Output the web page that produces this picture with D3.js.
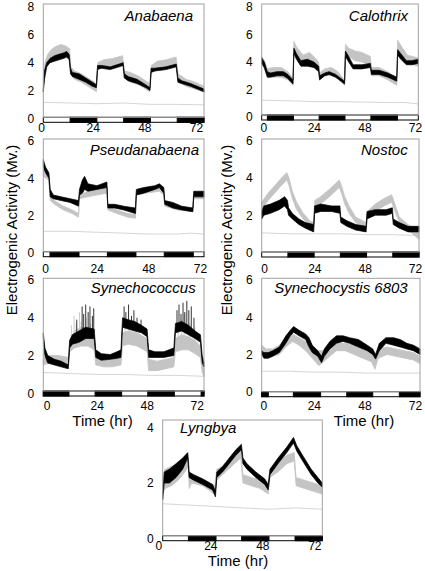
<!DOCTYPE html>
<html><head><meta charset="utf-8">
<script src="https://cdn.jsdelivr.net/npm/d3@7"></script>
<style>
body{margin:0;background:#fff}
svg{display:block}
text{font-family:Arial,"Liberation Sans",sans-serif;fill:#000}
</style>
</head><body>
<svg id="chart" width="425" height="571"></svg>
<script>
// ---------------- DATA (hours, low, high) ----------------
const strainNames = ["Anabaena","Calothrix","Pseudanabaena","Nostoc","Synechococcus","Synechocystis 6803","Lyngbya"];
const xTicks = [0,24,48,72];
const yTicks8 = [0,2,4,6,8];
const yTicks6 = [0,2,4,6];
const yTicks4 = [0,2,4];
const yAxisTitle = "Electrogenic Activity (Mv.)";
const xAxisTitle = "Time (hr)";

const anabaenaBlack = [[0,1.9,2.1],[0.5,2.8,3.4],[1.5,3.7,4.0],[3,4.0,4.3],[5,4.1,4.5],[7,4.2,4.6],[9,4.3,4.7],[10.5,4.4,4.8],[11.6,4.2,4.6],[12.2,3.2,3.6],[13,3.0,3.3],[16,2.8,3.2],[19,2.6,2.9],[22,2.3,2.6],[23.8,2.2,2.4],[24.3,3.5,3.8],[26,3.6,3.8],[30,3.5,3.7],[34,3.7,3.9],[35.8,3.8,4.0],[36.3,2.9,3.2],[38,2.7,3.0],[42,2.5,2.8],[46,2.2,2.4],[47.8,2.0,2.2],[48.3,3.3,3.6],[50,3.4,3.6],[55,3.5,3.7],[59.6,3.7,3.9],[60.3,2.6,2.9],[62,2.5,2.7],[66,2.3,2.5],[72,1.9,2.1]];
const anabaenaGray = [[0,1.9,2.3],[0.7,3.0,4.0],[2,3.9,4.6],[4,4.1,5.0],[6,4.3,5.2],[8,4.4,5.3],[10,4.5,5.2],[11.8,4.3,5.0],[12.3,3.2,3.7],[14,2.8,3.4],[17,2.6,3.2],[20,2.3,2.9],[23.8,1.9,2.5],[24.4,3.6,4.0],[27,3.7,4.2],[31,3.8,4.3],[35.5,3.9,4.5],[36.3,2.9,3.4],[39,2.6,3.3],[43,2.4,3.0],[47.6,1.9,2.5],[48.4,3.3,3.8],[51,3.5,4.1],[55,3.6,4.2],[59.5,3.7,4.4],[60.4,2.6,3.2],[64,2.3,2.8],[68,2.1,2.6],[72,1.9,2.3]];
const anabaenaControl = [[0,1.15],[12,1.1],[24,1.05],[36,1.1],[48,1.0],[60,1.0],[72,0.97]];
const anabaenaDark = [[12,24],[36,48],[60,72]];

const calothrixBlack = [[0,3.9,4.3],[1.2,3.6,4.0],[2.6,2.9,3.3],[4,2.9,3.2],[7,3.0,3.3],[10,3.0,3.3],[12,2.8,3.1],[14.4,2.4,2.7],[14.8,4.6,5.0],[16,4.2,4.6],[18,3.7,4.1],[21,3.7,4.2],[24,3.6,4.0],[26.2,3.3,3.7],[26.6,2.7,3.0],[29,3.0,3.2],[31,3.1,3.3],[34,2.9,3.1],[38.1,2.4,2.6],[38.5,4.4,4.8],[40,4.0,4.4],[42,3.5,3.8],[46,3.5,3.8],[50.0,3.6,3.9],[50.4,3.1,3.4],[54,3.1,3.4],[58,2.9,3.2],[62.1,2.6,2.9],[62.5,4.5,4.9],[64,4.2,4.6],[66.5,3.8,4.1],[69,3.8,4.1],[72,3.9,4.2]];
const calothrixGray = [[0,3.9,4.4],[1.2,3.5,4.1],[2.6,2.9,3.5],[5,2.9,3.6],[9,2.9,3.6],[12,2.7,3.3],[14.4,2.3,2.8],[14.8,4.9,5.5],[16,4.5,5.1],[19,4.0,4.5],[22,4.0,4.7],[24,3.8,4.4],[26.2,3.4,4.0],[26.6,2.7,3.2],[29,3.0,3.5],[32,3.0,3.6],[35,2.8,3.3],[38.1,2.3,2.7],[38.5,4.7,5.3],[40,4.4,5.0],[43,4.1,4.8],[46,4.0,4.7],[50.0,3.8,4.4],[50.4,3.0,3.6],[54,3.0,3.6],[58,2.7,3.3],[62.1,2.3,2.8],[62.5,4.9,5.6],[64,4.5,5.2],[67,3.9,4.5],[72,3.7,4.3]];
const calothrixControl = [[0,1.22],[12,1.18],[24,1.12],[36,1.12],[48,1.08],[60,1.05],[66,1.05],[72,0.95]];
const calothrixDark = [[2.6,14.6],[26.4,38.3],[50.2,62.4]];

const pseudanabaenaBlack = [[0,4.6,5.0],[1,4.3,4.6],[2.5,4.0,4.3],[3.1,3.0,3.4],[4.5,2.9,3.1],[8,2.8,3.0],[12,2.7,2.9],[15.8,2.5,2.8],[16.2,3.1,3.4],[17.5,3.2,3.9],[18.5,3.4,4.1],[20,3.3,3.7],[24,3.4,3.6],[28.5,3.5,3.8],[28.9,2.4,2.6],[32,2.4,2.6],[36,2.3,2.5],[41.3,2.1,2.4],[41.7,3.1,3.4],[45,3.2,3.5],[50,3.4,3.6],[52,3.5,3.7],[54,3.2,3.5],[54.4,2.6,2.8],[58,2.4,2.7],[62,2.3,2.5],[67,2.2,2.4],[67.4,3.0,3.3],[72,3.0,3.3]];
const pseudanabaenaGray = [[0,4.1,4.5],[2.5,3.9,4.2],[3.1,2.8,3.1],[5,2.6,2.8],[9,2.3,2.5],[13,2.1,2.3],[15.8,1.9,2.1],[16.2,2.9,3.1],[20,3.0,3.3],[24,3.1,3.4],[28.5,3.2,3.5],[28.9,2.3,2.5],[33,2.1,2.3],[38,1.9,2.1],[41.3,1.85,2.05],[41.7,3.1,3.3],[46,3.2,3.4],[52,3.3,3.5],[54,3.1,3.3],[54.4,2.5,2.7],[60,2.3,2.5],[67,2.2,2.4],[67.4,2.9,3.1],[72,2.9,3.1]];
const pseudanabaenaControl = [[0,1.15],[12,1.15],[24,1.1],[36,1.05],[48,1.0],[60,1.0],[66,1.05],[72,1.0]];
const pseudanabaenaDark = [[3.0,16.0],[28.7,41.5],[54.2,67.2]];

const nostocBlack = [[0,1.8,2.2],[1,2.0,2.5],[4,2.1,2.6],[8,2.3,2.8],[10.5,2.5,3.0],[11.8,2.3,2.8],[12.3,2.0,2.4],[14,1.8,2.1],[17,1.5,1.8],[20,1.3,1.6],[23.8,1.1,1.5],[24.2,2.1,2.5],[27,2.2,2.6],[32,2.2,2.5],[35.8,2.1,2.5],[36.2,1.6,1.9],[39,1.4,1.7],[43,1.2,1.5],[47.8,1.1,1.4],[48.2,1.8,2.2],[52,2.0,2.3],[57,2.0,2.3],[59.8,2.1,2.4],[60.2,1.5,1.8],[63,1.3,1.6],[67,1.1,1.4],[72,1.1,1.4]];
const nostocGray = [[0,2.3,2.7],[3,2.8,3.2],[6,3.2,3.6],[9,3.6,4.0],[11.5,3.9,4.3],[12.5,3.6,4.0],[14,2.9,3.3],[16,2.3,2.7],[19,1.8,2.1],[22,1.4,1.7],[23.8,1.3,1.6],[24.3,2.4,2.8],[27,2.6,3.0],[31,3.0,3.4],[35.5,3.5,3.9],[36.5,3.2,3.6],[38,2.6,3.0],[40,2.1,2.5],[43,1.6,1.9],[47.8,1.3,1.6],[48.3,1.9,2.2],[52,2.2,2.6],[56,2.5,2.9],[59.5,2.7,3.1],[61,2.2,2.6],[63,1.6,1.9],[67,1.2,1.5],[72,0.7,1.1]];
const nostocControl = [[0,1.05],[12,1.0],[24,1.0],[36,1.0],[48,0.95],[60,0.95],[72,0.9]];
const nostocDark = [[12,24],[36,48],[60,72]];

const synechococcusBlack = [[0,2.9,3.2],[0.7,2.0,2.4],[2,1.6,2.0],[5,1.5,1.8],[8,1.4,1.7],[11.2,1.3,1.5],[11.8,2.4,2.8],[13,2.6,3.1],[16,2.7,3.3],[19,2.9,3.5],[22.8,2.9,3.4],[23.5,1.9,2.3],[26,1.75,2.1],[30,1.8,2.05],[33,1.85,2.2],[34.8,1.9,2.3],[35.5,3.5,4.0],[38,3.4,3.9],[41,3.3,3.8],[44,3.2,3.6],[46.5,3.0,3.4],[47.2,1.9,2.3],[50,1.9,2.2],[54,1.9,2.2],[58.5,2.0,2.4],[59.2,3.2,3.7],[62,3.3,3.8],[65,3.1,3.6],[68,2.9,3.3],[70.4,2.7,3.1],[71.2,1.6,2.0],[72,1.4,1.6]];
const synechococcusBlackSpikes = [[15,3.2,3.9],[17.4,3.3,4.6],[18.1,3.3,4.2],[19,3.3,4.7],[20.1,3.3,4.3],[20.9,3.3,4.6],[22,3.2,4.1],[22.6,3.2,4.5],[36.2,3.9,4.6],[37,3.9,4.3],[38.2,3.8,4.7],[39.5,3.8,4.1],[40.6,3.7,4.4],[42,3.6,4.0],[43.8,3.5,3.9],[59.9,3.6,4.4],[60.8,3.7,4.7],[61.7,3.7,4.2],[62.6,3.7,4.8],[63.4,3.6,4.3],[64.3,3.6,4.9],[65.2,3.5,4.4],[66.3,3.4,4.6],[67.5,3.3,4.0]];
const synechococcusGray = [[0,1.5,1.9],[3,1.6,2.0],[7,1.6,2.0],[11.2,1.5,1.9],[11.8,2.2,2.8],[14,2.4,3.3],[17,2.5,3.5],[20,2.5,3.4],[22.8,2.3,3.1],[23.5,1.5,2.1],[27,1.4,2.0],[31,1.4,1.9],[34.8,1.5,2.1],[35.5,2.5,3.2],[38,2.6,3.3],[42,2.5,3.2],[46.5,2.2,2.9],[47.2,1.2,1.8],[51,1.2,1.7],[55,1.3,1.8],[58.5,1.4,1.9],[59.2,2.2,2.9],[62,2.3,3.1],[65,2.3,3.0],[68,2.1,2.8],[70.4,1.9,2.5],[71.2,1.1,1.6],[72,0.9,1.3]];
const synechococcusGraySpikes = [[12.6,2.7,3.6],[13.8,2.9,4.1],[14.7,3.0,3.7],[16.2,3.0,4.3],[16.9,3.0,3.8],[19.3,3.0,4.0],[21.2,3.0,3.7],[36.6,3.0,3.8],[38.6,3.0,3.6],[60.4,2.8,3.7],[61.9,2.8,3.9],[63.1,2.8,4.2],[65.7,2.7,3.7],[67.9,2.7,3.5]];
const synechococcusControl = [[0,1.1],[12,1.05],[24,1.0],[36,1.0],[48,0.95],[60,0.95],[72,0.9]];
const synechococcusDark = [[0,11.5],[23.2,35.1],[46.8,58.7],[70.7,72]];

const synechocystisBlack = [[0,2.0,2.2],[1,1.8,2.1],[3,1.8,2.1],[5,1.9,2.2],[8,2.1,2.4],[11,2.6,3.0],[13,3.0,3.3],[14.5,3.2,3.5],[17,3.0,3.3],[20,2.8,3.1],[21.5,2.4,2.9],[23,2.1,2.5],[25.5,1.9,2.2],[27.2,1.55,1.9],[28.5,1.9,2.3],[31,2.3,2.7],[34,2.6,3.0],[37,2.7,3.0],[40,2.6,2.9],[44,2.4,2.8],[48,2.2,2.5],[50.5,2.0,2.3],[51.8,1.75,2.0],[53.5,2.2,2.6],[56.5,2.6,2.9],[60,2.5,2.9],[63,2.4,2.8],[66,2.3,2.6],[69,2.2,2.5],[72,2.0,2.3]];
const synechocystisGray = [[0,2.1,2.5],[2,1.8,2.3],[5,1.9,2.3],[8,2.0,2.5],[11,2.4,2.9],[14,2.7,3.1],[17,2.5,2.9],[20,2.2,2.7],[23,1.8,2.4],[26,1.4,2.2],[28,1.6,2.2],[31,1.9,2.4],[34,2.2,2.6],[38,2.2,2.6],[42,2.0,2.5],[46,1.8,2.3],[50,1.6,2.1],[51.5,1.2,1.8],[53,1.8,2.3],[57,2.0,2.4],[61,1.9,2.3],[65,1.8,2.2],[69,1.7,2.1],[72,1.5,1.9]];
const synechocystisControl = [[0,1.1],[12,1.1],[24,1.05],[36,1.05],[48,1.0],[60,1.0],[72,1.0]];
const synechocystisDark = [[0,3.0],[14.4,26.8],[38.7,50.5],[62.6,72]];

const lyngbyaBlack = [[0,1.4,1.6],[0.7,2.0,2.4],[3,2.0,2.5],[6,2.2,2.7],[9,2.5,2.9],[11.3,2.9,3.1],[11.9,2.2,2.4],[14,2.1,2.3],[18,1.95,2.15],[22.5,1.75,1.95],[23.8,1.5,1.7],[24.4,2.2,2.4],[27,2.4,2.6],[30,2.7,2.9],[33,3.0,3.2],[35.5,3.2,3.4],[36.2,2.7,2.9],[38,2.5,2.7],[42,2.2,2.4],[46,1.95,2.15],[47.6,1.75,1.95],[48.4,2.3,2.5],[52,2.7,2.9],[56,3.1,3.3],[59,3.45,3.65],[60.5,3.15,3.35],[63.5,2.75,2.95],[67,2.3,2.5],[70,2.0,2.2],[72,1.85,2.0]];
const lyngbyaGray = [[0,1.6,2.2],[1,1.8,2.5],[4,1.9,2.6],[7,2.1,2.7],[10,2.4,2.9],[11.5,2.6,3.0],[12,1.8,2.3],[13,2.0,2.3],[18,1.9,2.1],[23.5,1.6,1.9],[24.4,2.1,2.5],[27,2.3,2.6],[31,2.6,2.9],[35.2,2.9,3.2],[36.2,2.0,2.3],[40,1.9,2.2],[44,1.8,2.1],[47.6,1.6,1.9],[48.4,2.2,2.5],[52,2.4,2.8],[56,2.7,3.0],[59.3,2.8,3.1],[60.2,1.9,2.2],[64,1.8,2.1],[68,1.7,2.0],[72,1.6,1.9]];
const lyngbyaControl = [[0,1.25],[12,1.2],[24,1.15],[36,1.1],[48,1.05],[60,1.1],[72,1.05]];
const lyngbyaDark = [[11.6,24.05],[35.6,47.95],[59.7,72]];

// ---------------- LAYOUT ----------------
const layout = [
  {x0:43.3, x1:204, frameTop:4, y0:118.3, yTop:7, yMax:8, yTicks:yTicks8, barTop:117.3, lab:[41,196], labBase:132.3, nameX:193, nameY:21, anchor:"end"},
  {x0:261.7, x1:418.3, frameTop:4, y0:117, yTop:7, yMax:8, yTicks:yTicks8, barTop:115, lab:[263.3,415], labBase:132.3, nameX:408, nameY:21, anchor:"end"},
  {x0:43.3, x1:204, frameTop:139, y0:252.7, yTop:141, yMax:6, yTicks:yTicks6, barTop:251.7, lab:[45,200], labBase:273, nameX:199, nameY:155, anchor:"end"},
  {x0:261.7, x1:419, frameTop:139, y0:252.3, yTop:141, yMax:6, yTicks:yTicks6, barTop:252, lab:[264,415], labBase:273, nameX:407.7, nameY:155, anchor:"end"},
  {x0:43.3, x1:204, frameTop:278.3, y0:393.3, yTop:280, yMax:6, yTicks:yTicks6, barTop:391, lab:[46.7,196.7], labBase:410, nameX:195.7, nameY:293.3, anchor:"end"},
  {x0:261.7, x1:420, frameTop:278.3, y0:391.7, yTop:280, yMax:6, yTicks:yTicks6, barTop:391.7, lab:[263.3,415], labBase:410, nameX:407.7, nameY:293.3, anchor:"end"},
  {x0:162.7, x1:322.3, frameTop:420, y0:538.3, yTop:427.7, yMax:4, yTicks:yTicks4, barTop:535.7, lab:[158.3,314.3], labBase:550, nameX:180, nameY:433, anchor:"start"}
];
const seriesSets = [
  [anabaenaBlack, anabaenaGray, anabaenaControl, anabaenaDark, [], []],
  [calothrixBlack, calothrixGray, calothrixControl, calothrixDark, [], []],
  [pseudanabaenaBlack, pseudanabaenaGray, pseudanabaenaControl, pseudanabaenaDark, [], []],
  [nostocBlack, nostocGray, nostocControl, nostocDark, [], []],
  [synechococcusBlack, synechococcusGray, synechococcusControl, synechococcusDark, synechococcusBlackSpikes, synechococcusGraySpikes],
  [synechocystisBlack, synechocystisGray, synechocystisControl, synechocystisDark, [], []],
  [lyngbyaBlack, lyngbyaGray, lyngbyaControl, lyngbyaDark, [], []]
];

const svg = d3.select("#chart");
const BAR_H = 5;
const GRAY = "#c4c4c4";

layout.forEach((L, i) => {
  const [blk, gry, ctl, dark, bSp, gSp] = seriesSets[i];
  const x = d3.scaleLinear().domain([0,72]).range([L.x0, L.x1]);
  const y = d3.scaleLinear().domain([0,L.yMax]).range([L.y0, L.yTop]);
  const xl = d3.scaleLinear().domain([0,72]).range(L.lab);
  const g = svg.append("g");
  const barBottom = L.barTop + BAR_H;

  g.append("rect").attr("x",L.x0).attr("y",L.frameTop).attr("width",L.x1-L.x0).attr("height",barBottom-L.frameTop)
    .attr("fill","#fff");

  const band = d3.area().x(d=>x(d[0])).y0(d=>y(d[1])).y1(d=>y(d[2]));
  const line = d3.line().x(d=>x(d[0])).y(d=>y(d[1]));

  g.append("path").datum(ctl).attr("d",line).attr("fill","none").attr("stroke","#d6d6d6").attr("stroke-width",1);
  g.append("path").datum(gry).attr("d",band).attr("fill",GRAY).attr("stroke",GRAY).attr("stroke-width",0.8);
  g.selectAll(".gsp").data(gSp).enter().append("line")
    .attr("x1",d=>x(d[0])).attr("x2",d=>x(d[0])).attr("y1",d=>y(d[1])).attr("y2",d=>y(d[2]))
    .attr("stroke",GRAY).attr("stroke-width",0.9);
  g.append("path").datum(blk).attr("d",band).attr("fill","#000").attr("stroke","#000").attr("stroke-width",0.7);
  g.selectAll(".bsp").data(bSp).enter().append("line")
    .attr("x1",d=>x(d[0])).attr("x2",d=>x(d[0])).attr("y1",d=>y(d[1])).attr("y2",d=>y(d[2]))
    .attr("stroke","#000").attr("stroke-width",0.8);

  // light/dark bar
  g.append("rect").attr("x",x(0)).attr("y",L.barTop).attr("width",x(72)-x(0)).attr("height",BAR_H)
    .attr("fill","#fff").attr("stroke","#000").attr("stroke-width",1);
  g.selectAll(".dk").data(dark).enter().append("rect")
    .attr("x",d=>x(d[0])).attr("y",L.barTop).attr("width",d=>x(d[1])-x(d[0])).attr("height",BAR_H)
    .attr("fill","#000").attr("stroke","#000").attr("stroke-width",1);

  // frame
  g.append("rect").attr("x",L.x0).attr("y",L.frameTop).attr("width",L.x1-L.x0).attr("height",L.barTop-L.frameTop)
    .attr("fill","none").attr("stroke","#a0a0a0").attr("stroke-width",1);

  // y axis labels
  const ya = g.append("g").attr("transform",`translate(${L.x0},0)`)
    .call(d3.axisLeft(y).tickValues(L.yTicks).tickSize(0).tickPadding(9).tickFormat(d3.format("d")));
  ya.select(".domain").remove();
  ya.selectAll("text").attr("font-size",12).attr("font-family","Arial, 'Liberation Sans', sans-serif").attr("fill","#000");

  // x axis labels
  const xa = g.append("g").attr("transform",`translate(0,${L.labBase-8.6})`)
    .call(d3.axisBottom(xl).tickValues(xTicks).tickSize(0).tickPadding(0).tickFormat(d3.format("d")));
  xa.select(".domain").remove();
  xa.selectAll("text").attr("font-size",12).attr("font-family","Arial, 'Liberation Sans', sans-serif").attr("fill","#000");

  // strain name
  g.append("text").attr("x",L.nameX).attr("y",L.nameY).attr("text-anchor",L.anchor)
    .attr("font-size",15).attr("font-style","italic").text(strainNames[i]);
});

// axis titles
[[17,230],[232.3,230]].forEach(([tx,ty]) => {
  svg.append("text").attr("transform",`translate(${tx},${ty}) rotate(-90)`)
    .attr("text-anchor","middle").attr("font-size",15).text(yAxisTitle);
});
[[102.5,425.5],[364,425.5],[238,565.5]].forEach(([tx,ty]) => {
  svg.append("text").attr("x",tx).attr("y",ty).attr("text-anchor","middle").attr("font-size",15).text(xAxisTitle);
});
</script>
</body></html>
